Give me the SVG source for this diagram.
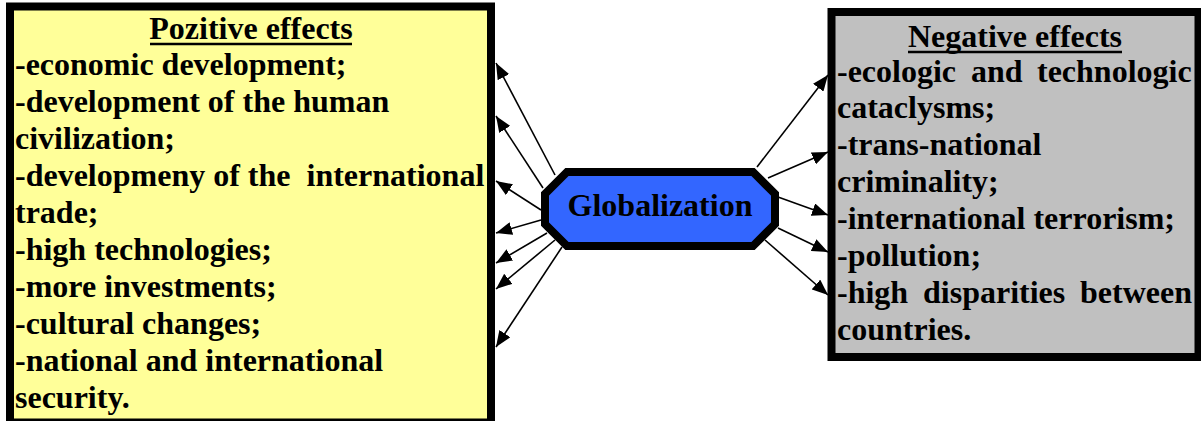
<svg xmlns="http://www.w3.org/2000/svg" width="1201" height="421" viewBox="0 0 1201 421">
<style>
text { font-family: "Liberation Serif", "Times New Roman", serif; font-weight: bold; font-size: 32px; fill: #000; }
.box { stroke: #000; stroke-width: 8; }
.conn { stroke: #000; stroke-width: 1.6; fill: none; marker-end: url(#arr); }
.ul { stroke: #000; stroke-width: 2.5; }
</style>
<defs>
<marker id="arr" markerUnits="userSpaceOnUse" markerWidth="17" markerHeight="13" refX="16" refY="6.5" orient="auto">
<path d="M0,0 L16,6.5 L0,13 z" fill="#000"/>
</marker>
</defs>
<rect width="1201" height="421" fill="#fff"/>
<g id="positive">
<rect class="box" x="10" y="6.5" width="481" height="416" fill="#FFFF99"/>
<text x="251" y="39" text-anchor="middle">Pozitive effects</text>
<line class="ul" x1="150" y1="44" x2="352" y2="44"/>
<text x="15" y="75">-economic development;</text>
<text x="15" y="112">-development of the human</text>
<text x="15" y="149">civilization;</text>
<text x="15" y="186" xml:space="preserve">-developmeny of the  international</text>
<text x="15" y="223">trade;</text>
<text x="15" y="260">-high technologies;</text>
<text x="15" y="297">-more investments;</text>
<text x="15" y="334">-cultural changes;</text>
<text x="15" y="371">-national and international</text>
<text x="15" y="408">security.</text>
</g>
<g id="negative">
<rect class="box" x="831.5" y="12" width="367" height="345" fill="#C0C0C0"/>
<text x="1015" y="47" text-anchor="middle">Negative effects</text>
<line class="ul" x1="908" y1="52" x2="1122" y2="52"/>
<text y="82"><tspan x="837">-ecologic</tspan><tspan x="971">and</tspan><tspan x="1037">technologic</tspan></text>
<text x="837" y="118">cataclysms;</text>
<text x="837" y="155">-trans-national</text>
<text x="837" y="192">criminality;</text>
<text x="837" y="229">-international terrorism;</text>
<text x="837" y="266">-pollution;</text>
<text y="303"><tspan x="837">-high</tspan><tspan x="923">disparities</tspan><tspan x="1080">between</tspan></text>
<text x="837" y="340">countries.</text>
</g>
<g id="globalization">
<polygon points="567,172 753,172 775,194 775,224 753,246 567,246 545,224 545,194" fill="#3366FF" stroke="#000" stroke-width="8"/>
<text x="660" y="216" text-anchor="middle">Globalization</text>
</g>
<g id="connectors">
<line class="conn" x1="555" y1="175" x2="496" y2="63"/>
<line class="conn" x1="543" y1="188" x2="496" y2="116"/>
<line class="conn" x1="541" y1="210" x2="496" y2="181"/>
<line class="conn" x1="541" y1="220" x2="496" y2="233"/>
<line class="conn" x1="547" y1="233" x2="496" y2="263"/>
<line class="conn" x1="555" y1="240" x2="496" y2="289"/>
<line class="conn" x1="562" y1="247" x2="496" y2="347"/>
<line class="conn" x1="757" y1="167" x2="828" y2="75"/>
<line class="conn" x1="768" y1="178" x2="828" y2="152"/>
<line class="conn" x1="778" y1="197" x2="828" y2="215"/>
<line class="conn" x1="778" y1="228" x2="828" y2="252"/>
<line class="conn" x1="765" y1="240" x2="828" y2="295"/>
</g>
</svg>
